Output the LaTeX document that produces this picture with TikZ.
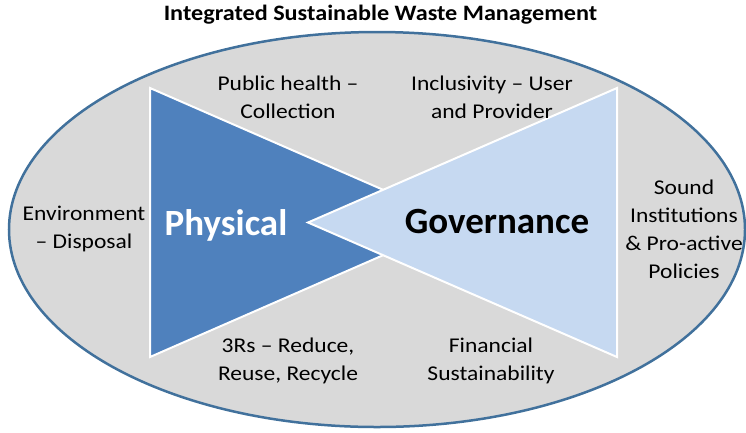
\documentclass[tikz,border=0pt]{standalone}
\usepackage{fontspec}
\setmainfont{Carlito}
\newfontfamily\labelfont[FakeStretch=1.12]{Carlito}
\newfontfamily\titlefont[FakeStretch=1.1]{Carlito}
\usetikzlibrary{shapes}
\definecolor{ringblue}{HTML}{41719C}
\definecolor{ringgray}{HTML}{D9D9D9}
\definecolor{physblue}{HTML}{4F81BD}
\definecolor{govblue}{HTML}{C6D9F1}
\tikzstyle{ring}=[ellipse,draw=ringblue,fill=ringgray,line width=2.5pt,inner sep=0pt]
\tikzstyle{wedge}=[draw=white,line width=2pt,line join=miter]
\tikzstyle{aspect}=[align=center,inner sep=0pt,font=\labelfont\fontsize{21}{28}\selectfont]
\tikzstyle{bigword}=[anchor=base,inner sep=0pt,font=\bfseries\fontsize{37}{40}\selectfont]

\begin{document}
\begin{tikzpicture}[x=1pt,y=-1pt]
\useasboundingbox (0,0) rectangle (746,432);

% Title
\node[anchor=base,inner sep=0pt,font=\titlefont\bfseries\fontsize{22}{24}\selectfont] (title) at (380.5,20) {Integrated Sustainable Waste Management};

% Ellipse
\node[ring,minimum width=736pt,minimum height=395pt] (waste) at (377,229.5) {};

% Triangles
\draw[wedge,fill=physblue] (150,88) -- (150,357) -- (458,222.5) -- cycle;
\draw[wedge,fill=govblue] (617,88) -- (617,357) -- (308,222.5) -- cycle;

\node[bigword,white] (physical) at (226,235) {Physical};
\node[bigword,black] (governance) at (497,233) {Governance};

% Aspects
\foreach \pos/\name/\txt in {{(288,97)/health/{Public health –\\Collection}},
    {(492,97)/inclusivity/{Inclusivity – User\\and Provider}},
    {(84,229)/environment/{Environment\\– Disposal}},
    {(684,229.5)/institutions/{Sound\\Institutions\\\& Pro-active\\Policies}},
    {(288,361)/rrr/{3Rs – Reduce,\\Reuse, Recycle}},
    {(491,361)/financial/{Financial\\Sustainability}}}
    \node[aspect] (\name) at \pos {\txt};

\end{tikzpicture}
\end{document}
